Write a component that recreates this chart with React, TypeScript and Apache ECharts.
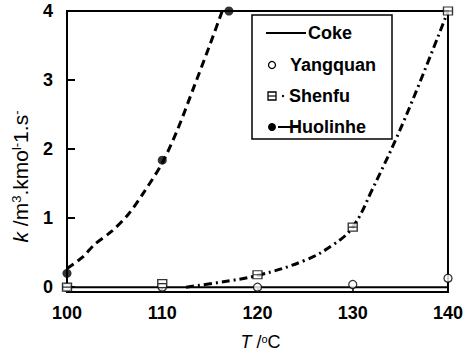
import React, { useEffect, useRef } from "react";
import * as echarts from "echarts";

const tempTicks = [100, 110, 120, 130, 140];
const kTicks = [0, 1, 2, 3, 4];

const cokeT = [100, 140];
const cokeK = [0, 0];

const yangquanT = [100, 110, 120, 130, 140];
const yangquanK = [0, 0, 0, 0.04, 0.13];

const shenfuT = [100, 110, 120, 130, 140];
const shenfuK = [0, 0.05, 0.18, 0.87, 4.0];

const huolinheT = [100, 110, 117];
const huolinheK = [0.2, 1.84, 4.0];

// fitted curves
const shenfuFitT = [112.5, 116, 120, 125, 128, 130, 132, 135.5, 140];
const shenfuFitK = [0, 0.07, 0.17, 0.39, 0.62, 0.87, 1.4, 2.45, 4.0];

const huolinheFitT = [100, 101.6, 102.9, 104.7, 106.4, 108.1, 110, 111.6, 113.3, 115, 116.3];
const huolinheFitK = [0.27, 0.43, 0.62, 0.81, 1.05, 1.38, 1.8, 2.28, 2.89, 3.51, 4.0];

const legendNames = ["Coke", "Yangquan", "Shenfu", "Huolinhe"];

const zip = (xs: number[], ys: number[]) => xs.map((x, i) => [x, ys[i]]);

const FONT = "Liberation Sans, Arial, sans-serif";

export default function App() {
  const ref = useRef<HTMLDivElement>(null);
  useEffect(() => {
    if (!ref.current) return;
    const chart = echarts.init(ref.current, null, { renderer: "svg" });
    const legendX = 252;
    const legendY = 15;
    const rowY = [33, 65, 96, 127];
    const textX = [308, 290, 289, 289];
    const option: any = {
      animation: false,
      backgroundColor: "#fff",
      textStyle: { fontFamily: FONT, color: "#000" },
      grid: {
        left: 67,
        right: 13,
        top: 11,
        bottom: 59,
        show: true,
        borderColor: "#000",
        borderWidth: 2,
        backgroundColor: "transparent",
      },
      xAxis: {
        type: "value",
        min: 100,
        max: 140,
        interval: 10,
        name: "{i|T} /{sup|o}C",
        nameLocation: "middle",
        nameGap: 41,
        nameTextStyle: {
          fontFamily: FONT,
          fontSize: 18,
          color: "#000",
          padding: [0, 0, 0, 6],
          rich: {
            i: { fontStyle: "italic", fontSize: 18, fontFamily: FONT, color: "#000" },
            sup: { fontSize: 11, verticalAlign: "top", fontFamily: FONT, color: "#000" },
          },
        },
        axisLine: { show: false },
        axisTick: { show: true, inside: false, length: 4, lineStyle: { color: "#000", width: 1.5 } },
        axisLabel: {
          customValues: tempTicks,
          fontFamily: FONT,
          fontSize: 18,
          fontWeight: "bold",
          color: "#000",
          margin: 12,
        },
        splitLine: { show: false },
      },
      yAxis: {
        type: "value",
        min: -0.07,
        max: 4,
        name: "{i|k} /m{sup|3}.kmo{sup|l-}1.s{sup|-}",
        nameLocation: "middle",
        nameGap: 36,
        nameRotate: 90,
        nameTextStyle: {
          fontFamily: FONT,
          fontSize: 21,
          color: "#000",
          padding: [0, 50, 0, 0],
          rich: {
            i: { fontStyle: "italic", fontSize: 21, fontFamily: FONT, color: "#000" },
            sup: { fontSize: 13, verticalAlign: "top", fontFamily: FONT, color: "#000" },
          },
        },
        axisLine: { show: false },
        axisTick: {
          show: true,
          inside: true,
          length: 8,
          customValues: kTicks,
          lineStyle: { color: "#000", width: 2 },
        },
        axisLabel: {
          customValues: kTicks,
          fontFamily: FONT,
          fontSize: 18,
          fontWeight: "bold",
          color: "#000",
          margin: 14,
        },
        splitLine: { show: false },
      },
      series: [
        {
          name: "Coke",
          type: "line",
          data: zip(cokeT, cokeK),
          symbol: "none",
          lineStyle: { color: "#000", width: 2 },
          z: 3,
        },
        {
          name: "Huolinhe fit",
          type: "line",
          data: zip(huolinheFitT, huolinheFitK),
          smooth: 0.3,
          symbol: "none",
          lineStyle: { color: "#000", width: 3, type: [8, 5] },
          z: 2,
        },
        {
          name: "Shenfu fit",
          type: "line",
          data: zip(shenfuFitT, shenfuFitK),
          smooth: 0.4,
          symbol: "none",
          lineStyle: { color: "#000", width: 3, type: [8, 4, 2, 4] },
          z: 2,
        },
        {
          name: "Yangquan",
          type: "scatter",
          data: zip(yangquanT, yangquanK),
          symbol: "circle",
          symbolSize: 8,
          itemStyle: { color: "#fff", borderColor: "#000", borderWidth: 1.3 },
          z: 4,
        },
        {
          name: "Shenfu",
          type: "scatter",
          data: zip(shenfuT, shenfuK),
          symbol: "path://M0 0H10V9H0ZM0 4.5H10",
          symbolSize: [9, 8],
          itemStyle: { color: "#fff", borderColor: "#000", borderWidth: 1.3 },
          z: 5,
        },
        {
          name: "Huolinhe",
          type: "scatter",
          data: zip(huolinheT, huolinheK),
          symbol: "circle",
          symbolSize: 9,
          itemStyle: { color: "#000" },
          clip: false,
          z: 6,
        },
      ],
      graphic: [
        {
          type: "rect",
          shape: { x: legendX, y: legendY, width: 140, height: 124 },
          style: { fill: "#fff", stroke: "#000", lineWidth: 1.5 },
          z: 10,
        },
        {
          type: "line",
          shape: { x1: 266, y1: rowY[0], x2: 306, y2: rowY[0] },
          style: { stroke: "#000", lineWidth: 2 },
          z: 11,
        },
        {
          type: "circle",
          shape: { cx: 272, cy: rowY[1], r: 3.5 },
          style: { fill: "#fff", stroke: "#000", lineWidth: 1.3 },
          z: 11,
        },
        {
          type: "rect",
          shape: { x: 268, y: rowY[2] - 4, width: 8, height: 8 },
          style: { fill: "#fff", stroke: "#000", lineWidth: 1.3 },
          z: 11,
        },
        {
          type: "line",
          shape: { x1: 268, y1: rowY[2], x2: 276, y2: rowY[2] },
          style: { stroke: "#000", lineWidth: 1.2 },
          z: 11,
        },
        {
          type: "circle",
          shape: { cx: 283, cy: rowY[2], r: 1.2 },
          style: { fill: "#000" },
          z: 11,
        },
        {
          type: "circle",
          shape: { cx: 272, cy: rowY[3], r: 4 },
          style: { fill: "#000" },
          z: 11,
        },
        {
          type: "line",
          shape: { x1: 278, y1: rowY[3], x2: 298, y2: rowY[3] },
          style: { stroke: "#000", lineWidth: 2 },
          z: 12,
        },
        ...legendNames.map((n, i) => ({
          type: "text",
          x: textX[i],
          y: rowY[i],
          style: {
            text: n,
            fill: "#000",
            font: `bold 18px ${FONT}`,
            verticalAlign: "middle",
            align: "left",
          },
          z: 11,
        })),
      ],
    };
    chart.setOption(option);
    return () => chart.dispose();
  }, []);
  return (
    <div
      ref={ref}
      style={{ position: "fixed", left: 0, top: 0, width: 466, height: 356, background: "#fff" }}
    />
  );
}
